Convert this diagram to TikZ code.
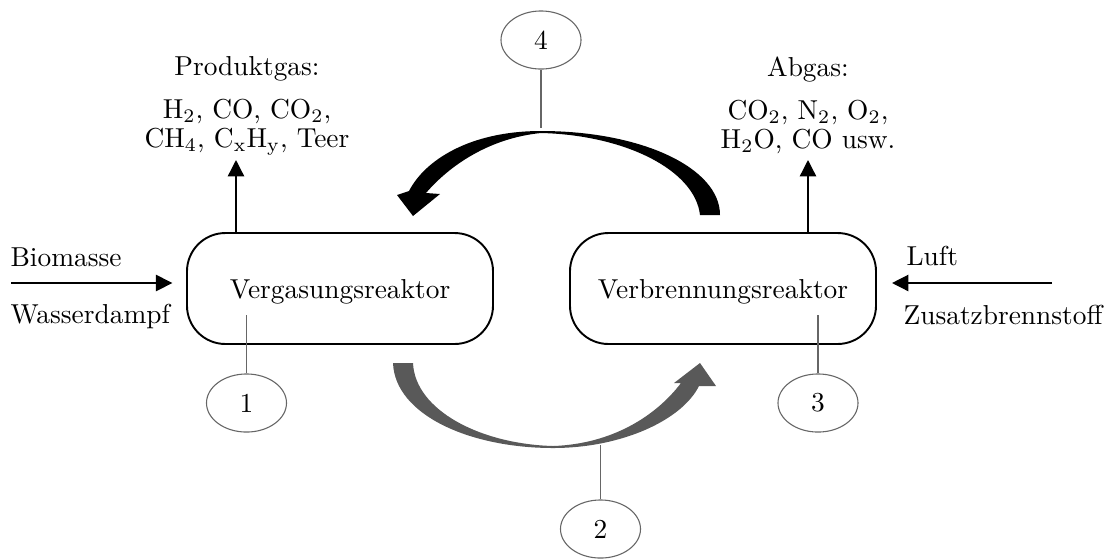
\documentclass[tikz,border=0pt]{standalone}
\usepackage{tikz}
\usetikzlibrary{shapes.geometric, arrows.meta, positioning}
\usepackage{xcolor}
\definecolor{mFlow}{HTML}{595959}
\definecolor{mTag} {HTML}{666666}

\begin{document}
\begin{tikzpicture}[x=0.365pt, y=-0.365pt,
    reactor/.style={draw, line width=0.7pt, rounded corners=14pt, text depth=0pt,
      minimum width=111.7pt, minimum height=40.5pt},
    marker/.style={ellipse, draw=mTag, line width=0.4pt, inner sep=0pt,
      minimum width=29.2pt, minimum height=21.2pt},
    feed/.style={-{Triangle[length=6pt, width=6pt]}, line width=0.5pt},
    txt/.style={inner sep=0pt}]
    \useasboundingbox (0,0) rectangle (1109,559);

    % Reactors
    \node[reactor] (vgr) at (340,288.5) {Vergasungsreaktor};
    \node[reactor] (vbr) at (723,288.5) {Verbrennungsreaktor};

    % Feeds
    \coordinate (bmin) at (11,283);
    \coordinate (luftin) at (1052,283);
    \draw[feed, shorten >=5pt] (bmin) -- (bmin -| vgr.west);
    \draw[feed, shorten >=5.5pt] (luftin) -- (luftin -| vbr.east);
    \node[txt, anchor=base west] (bm) at (10,266) {Biomasse};
    \node[txt, anchor=base west] (wd) at (10,323) {Wasserdampf};
    \node[txt, anchor=base west] (lu) at (906,265) {Luft};
    \node[txt, anchor=base west] (zb) at (903,324) {Zusatzbrennstoff};

    % Gas outlets
    \node[txt, align=center, anchor=north, font=\fontsize{10}{10.6}\selectfont] (pg) at (247,56)
      {Produktgas:\\[5.1pt] H\textsubscript{2}, CO, CO\textsubscript{2},\\
       CH\textsubscript{4}, C\textsubscript{x}H\textsubscript{y}, Teer};
    \node[txt, align=center, anchor=north, font=\fontsize{10}{10.6}\selectfont] (ag) at (808,56)
      {Abgas:\\[5.1pt] CO\textsubscript{2}, N\textsubscript{2}, O\textsubscript{2},\\
       H\textsubscript{2}O, CO usw.};
    \coordinate (pgtip) at (236,160);
    \coordinate (agtip) at (808,160);
    \draw[feed] (vgr.north -| pgtip) -- (pgtip);
    \draw[feed] (vbr.north -| agtip) -- (agtip);

    % Circulation
    \fill (720,215) .. controls (720,168) and (642,131) .. (541,131)
      .. controls (470,131) and (425,160) .. (409,191)
      -- (397,195) -- (413,216) -- (440,194) -- (426,193)
      .. controls (450,165) and (490,138) .. (541,133)
      .. controls (625,135) and (695,170) .. (700,215) -- cycle;
    \fill[mFlow] (393,363) .. controls (395,415) and (470,448) .. (553,448)
      .. controls (622,448) and (682,420) .. (699,386)
      -- (716,386) -- (700,363) -- (674,383) -- (681,383)
      .. controls (656,416) and (612,444) .. (553,446)
      .. controls (480,444) and (415,410) .. (413,363) -- cycle;

    % Numbered markers
    \coordinate (t1) at (246.5,315);
    \coordinate (t2) at (600.5,445);
    \coordinate (t3) at (818,315);
    \coordinate (t4) at (541,128);
    \foreach \n/\x/\y in {1/246.5/403, 2/600.5/529, 3/818/403, 4/541/40}{
      \node[marker] (m\n) at (\x,\y) {\n};
      \draw[mTag, line width=0.4pt] (m\n) -- (t\n);
    }
  \end{tikzpicture}
\end{document}
